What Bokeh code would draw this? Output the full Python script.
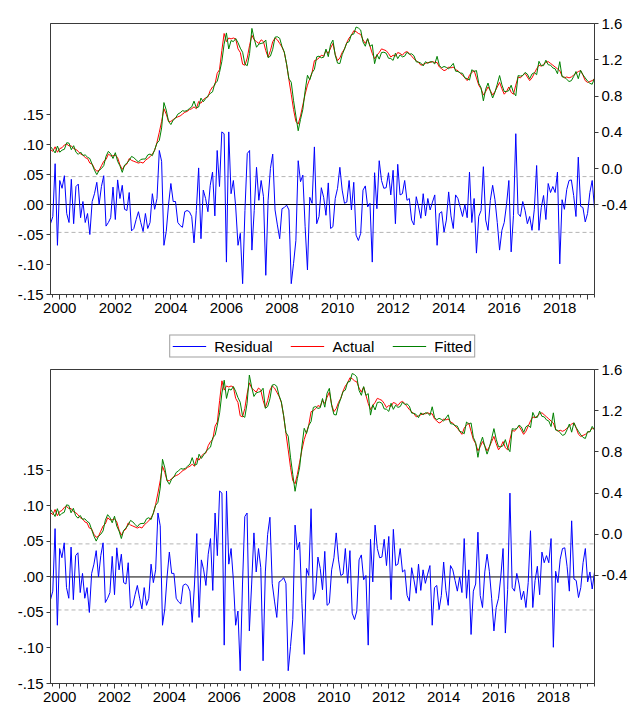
from bokeh.plotting import figure
from bokeh.models import Range1d, LinearAxis, FixedTicker, Span, Legend, LegendItem, ColumnDataSource
from bokeh.layouts import column
from bokeh.embed import file_html
from bokeh.resources import INLINE

# ---------------- data (monthly, first observation 1999m09) ----------------
START_YEAR, START_MONTH = 1999, 9

residual = [
    -0.032, -0.020, 0.068, -0.068,
    0.040, 0.027, 0.048, -0.015, -0.030, 0.042, -0.032, 0.030, 0.034, -0.022, 0.005, -0.030,
    -0.015, -0.050, 0.005, 0.018, 0.037, 0.000, 0.030, 0.048, -0.036, -0.030, -0.022, 0.029,
    -0.025, 0.041, 0.010, 0.032, -0.008, -0.010, 0.020, -0.044, -0.040, -0.025, -0.012, -0.030,
    -0.045, -0.015, -0.040, -0.030, 0.018, -0.008, 0.010, 0.090, 0.072, -0.068, -0.045, 0.000,
    0.035, 0.005, 0.005, -0.030, -0.035, -0.038, -0.012, -0.010, -0.012, -0.020, -0.064, -0.010,
    0.061, -0.057, 0.024, 0.010, -0.012, 0.032, 0.054, -0.019, 0.090, 0.030, 0.121, 0.118,
    -0.096, 0.121, 0.018, 0.040, -0.004, -0.068, -0.048, -0.132, -0.010, 0.085, 0.090, -0.076,
    -0.010, 0.062, 0.007, 0.040, 0.013, -0.118, 0.007, 0.060, 0.084, -0.009, -0.034, -0.057,
    -0.007, -0.005, -0.001, -0.009, -0.132, -0.098, -0.060, 0.073, 0.038, 0.049, -0.037, -0.109,
    0.012, 0.002, 0.096, -0.032, -0.020, 0.028, 0.012, -0.018, 0.036, -0.040, -0.037, 0.010,
    0.027, 0.062, 0.024, 0.002, 0.004, 0.040, -0.009, 0.037, -0.051, -0.060, -0.048, 0.024,
    0.031, -0.004, 0.002, -0.096, 0.053, -0.007, 0.073, 0.040, 0.027, 0.028, 0.053, 0.016,
    0.057, -0.032, 0.067, 0.016, 0.018, 0.040, 0.007, 0.010, -0.026, -0.034, 0.013, -0.004,
    -0.023, 0.018, -0.019, 0.010, -0.009, 0.004, 0.016, -0.068, -0.015, -0.012, -0.046, -0.026,
    0.021, -0.019, -0.040, 0.016, 0.010, -0.005, -0.020, 0.000, -0.022, 0.054, -0.030, 0.010,
    -0.081, -0.020, -0.010, 0.063, -0.026, -0.043, 0.007, 0.032, 0.008, -0.030, -0.076, -0.043,
    -0.030, 0.000, 0.040, -0.079, -0.018, 0.118, -0.015, -0.020, 0.005, -0.010, -0.032, -0.020,
    -0.043, -0.008, 0.065, -0.043, -0.005, 0.015, -0.025, 0.035, 0.020, 0.030, 0.020, 0.054,
    -0.099, 0.008, -0.008, 0.025, 0.040, 0.041, 0.015, -0.020, 0.079, -0.003, -0.005, -0.029,
    -0.015, 0.020, 0.040, -0.007,
]
# three further months shown only in the lower panel
residual_ext = [0.007, -0.017, 0.007]

actual = [
    0.21, 0.19, 0.24, 0.18,
    0.22, 0.23, 0.26, 0.27, 0.25, 0.25, 0.22, 0.21, 0.19, 0.16, 0.15, 0.12,
    0.11, 0.06, 0.05, 0.00, -0.03, -0.02, 0.03, 0.08, 0.10, 0.16, 0.14, 0.14,
    0.15, 0.12, 0.04, -0.01, 0.03, 0.05, 0.11, 0.09, 0.08, 0.07, 0.06, 0.07,
    0.06, 0.09, 0.11, 0.13, 0.16, 0.20, 0.29, 0.40, 0.52, 0.66, 0.60, 0.52,
    0.52, 0.54, 0.56, 0.57, 0.58, 0.60, 0.62, 0.63, 0.65, 0.66, 0.68, 0.66,
    0.74, 0.72, 0.76, 0.78, 0.79, 0.86, 0.90, 0.92, 1.05, 1.09, 1.30, 1.49,
    1.40, 1.44, 1.43, 1.44, 1.43, 1.32, 1.28, 1.15, 1.14, 1.22, 1.36, 1.47,
    1.42, 1.40, 1.38, 1.42, 1.40, 1.30, 1.23, 1.30, 1.40, 1.44, 1.42, 1.38,
    1.34, 1.28, 1.15, 0.98, 0.82, 0.65, 0.52, 0.49, 0.58, 0.70, 0.82, 0.92,
    0.99, 1.06, 1.19, 1.20, 1.22, 1.25, 1.24, 1.30, 1.27, 1.33, 1.38, 1.26,
    1.19, 1.22, 1.28, 1.32, 1.39, 1.44, 1.47, 1.52, 1.51, 1.49, 1.48, 1.42,
    1.38, 1.43, 1.35, 1.27, 1.21, 1.25, 1.28, 1.32, 1.31, 1.30, 1.27, 1.23,
    1.25, 1.24, 1.28, 1.27, 1.25, 1.28, 1.29, 1.27, 1.24, 1.21, 1.19, 1.17,
    1.14, 1.15, 1.16, 1.17, 1.17, 1.18, 1.17, 1.17, 1.12, 1.10, 1.08, 1.09,
    1.12, 1.11, 1.12, 1.09, 1.08, 1.05, 1.03, 1.00, 0.97, 1.03, 1.06, 1.08,
    1.00, 0.92, 0.88, 0.81, 0.85, 0.90, 0.86, 0.81, 0.85, 0.90, 0.95, 0.88,
    0.82, 0.85, 0.90, 0.84, 0.82, 0.92, 1.01, 1.00, 1.03, 1.05, 1.01, 0.97,
    1.00, 1.05, 1.10, 1.14, 1.13, 1.15, 1.17, 1.18, 1.16, 1.14, 1.12, 1.10,
    1.08, 1.02, 1.00, 1.01, 1.00, 1.01, 1.03, 1.05, 1.07, 1.08, 1.03, 0.97,
    0.95, 0.96, 0.97, 0.99, 1.00, 1.03, 1.02,
]

series_names = ["Residual", "Actual", "Fitted"]
year_ticks = list(range(2000, 2020))
left_ticks = [-0.15, -0.10, -0.05, 0.0, 0.05, 0.10, 0.15]
left_labels = ["-.15", "-.10", "-.05", ".00", ".05", ".10", ".15"]
right_ticks = [-0.4, 0.0, 0.4, 0.8, 1.2, 1.6]
right_labels = ["-0.4", "0.0", "0.4", "0.8", "1.2", "1.6"]
residual_se = 0.0465

# ---------------- styling ----------------
FONT = "Liberation Sans"
FRAME = "#3a3a3a"
BLUE, RED, GREEN = "#0000ff", "#ff0000", "#008000"
W = 630


def style_axis(ax, tick_out, standoff):
    ax.axis_line_color = FRAME
    ax.major_tick_line_color = FRAME
    ax.minor_tick_line_color = FRAME
    ax.major_tick_in = 0
    ax.minor_tick_in = 0
    ax.major_tick_out = tick_out
    ax.major_label_standoff = standoff
    ax.major_label_text_font = FONT
    ax.major_label_text_font_size = "15px"
    ax.major_label_text_color = "#000000"


def make_panel(n, height, top, bottom, left_range, right_range):
    res = (residual + residual_ext)[:n]
    act = actual[:n]
    fit = [a - r for a, r in zip(act, res)]  # fitted = actual - residual
    x = [START_YEAR + (START_MONTH - 1 + i) / 12 for i in range(n)]
    src = ColumnDataSource(dict(x=x, res=res, act=act, fit=fit))

    p = figure(width=W, height=height, output_backend="svg", toolbar_location=None,
               x_range=Range1d(x[0], x[-1]), y_range=Range1d(*left_range),
               min_border_left=50, min_border_right=W - 595,
               min_border_top=top, min_border_bottom=bottom)
    p.extra_y_ranges = {"right": Range1d(*right_range)}
    p.xgrid.visible = False
    p.ygrid.visible = False
    p.outline_line_color = FRAME
    p.outline_line_width = 1
    p.background_fill_color = "white"
    p.border_fill_color = "white"

    minor = [y + q for y in range(1999, 2020) for q in (0.25, 0.5, 0.75)]
    xa = p.xaxis[0]
    xa.ticker = FixedTicker(ticks=year_ticks, minor_ticks=minor)
    xa.major_label_overrides = {y: (str(y) if y % 2 == 0 else "") for y in year_ticks}
    style_axis(xa, 5, 3)
    xa.minor_tick_out = 3

    ya = p.yaxis[0]
    ya.ticker = FixedTicker(ticks=left_ticks)
    ya.major_label_overrides = dict(zip(left_ticks, left_labels))
    style_axis(ya, 4, 3)
    ya.minor_tick_line_color = None

    ra = LinearAxis(y_range_name="right")
    ra.ticker = FixedTicker(ticks=right_ticks)
    ra.major_label_overrides = dict(zip(right_ticks, right_labels))
    style_axis(ra, 4, 3)
    ra.minor_tick_line_color = None
    p.add_layout(ra, "right")

    for loc, col, dash in ((0.0, "#000000", "solid"),
                           (residual_se, "#b4b4b4", "4 3"),
                           (-residual_se, "#b4b4b4", "4 3")):
        s = Span(location=loc, dimension="width", line_color=col,
                 line_width=1, line_dash=dash, level="underlay")
        p.add_layout(s)

    p.line("x", "res", source=src, line_color=BLUE, line_width=1)
    p.line("x", "act", source=src, line_color=RED, line_width=1, y_range_name="right")
    p.line("x", "fit", source=src, line_color=GREEN, line_width=1, y_range_name="right")
    return p


top = make_panel(len(residual), 330, 23, 36, (-0.15, 0.3017), (-1.3895, 1.6))
bot = make_panel(len(residual) + len(residual_ext), 346, 8, 24, (-0.15, 0.292), (-1.45, 1.6))

# ---------------- legend strip ----------------
lp = figure(width=W, height=31, output_backend="svg", toolbar_location=None,
            x_range=Range1d(0, 1), y_range=Range1d(0, 1), min_border=0)
lp.axis.visible = False
lp.grid.visible = False
lp.outline_line_color = None
items = []
for name, col in zip(series_names, (BLUE, RED, GREEN)):
    # placeholder renderer kept outside the visible range; only its swatch is shown
    r = lp.line(x=[-10, -9], y=[-10, -9], line_color=col, line_width=1)
    items.append(LegendItem(label=name, renderers=[r]))
legend = Legend(items=items, orientation="horizontal", location="center",
                padding=2, spacing=18, margin=0,
                glyph_width=34, glyph_height=15, label_height=15, label_standoff=8,
                label_text_font=FONT, label_text_font_size="15px",
                label_text_color="#000000",
                border_line_color="#404040", border_line_width=1,
                background_fill_color="white")
lp.add_layout(legend, "center")

layout = column(top, lp, bot)
open("out.html", "w").write(file_html(layout, INLINE, title="Residual Actual Fitted"))
